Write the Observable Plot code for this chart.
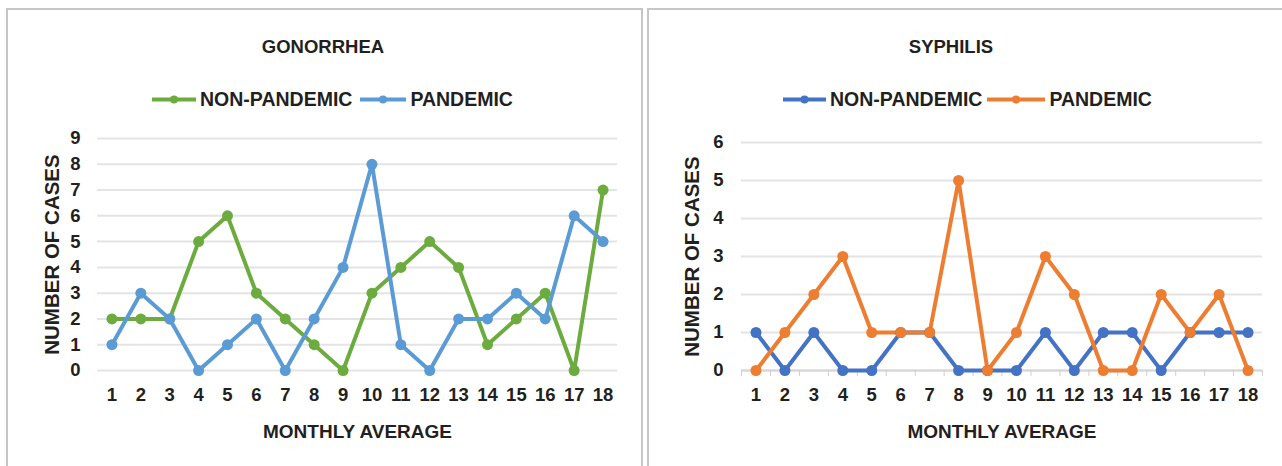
<!DOCTYPE html>
<html><head><meta charset="utf-8">
<script src="https://cdn.jsdelivr.net/npm/d3@7"></script>
<script src="https://cdn.jsdelivr.net/npm/@observablehq/plot@0.6"></script>
<style>
body{margin:0;background:#fff;font-family:"Liberation Sans",Arial,sans-serif;}
#page{position:relative;width:1282px;height:466px;overflow:hidden;background:#fff;}
.panel{position:absolute;border:2.5px solid #c6c6c6;box-sizing:border-box;}
.title{position:absolute;font-weight:bold;font-size:18.5px;color:#231f20;transform:translate(-50%,-50%);white-space:nowrap;}
.legend{position:absolute;display:flex;align-items:center;font-weight:bold;font-size:19.5px;color:#231f20;white-space:nowrap;transform:translateY(-50%);}
.legend .item{display:flex;align-items:center;}
.legend svg{display:block;}
.chart{position:absolute;top:120px;}
</style></head>
<body><div id="page"></div>
<script>
const months = [1,2,3,4,5,6,7,8,9,10,11,12,13,14,15,16,17,18];
const seriesNames = ["NON-PANDEMIC", "PANDEMIC"];

const gonNonPandemic = [2,2,2,5,6,3,2,1,0,3,4,5,4,1,2,3,0,7];
const gonPandemic    = [1,3,2,0,1,2,0,2,4,8,1,0,2,2,3,2,6,5];
const gonTicks = [0,1,2,3,4,5,6,7,8,9];

const syphNonPandemic = [1,0,1,0,0,1,1,0,0,0,1,0,1,1,0,1,1,1];
const syphPandemic    = [0,1,2,3,1,1,1,5,0,1,3,2,0,0,2,1,2,0];
const syphTicks = [0,1,2,3,4,5,6];

const page = document.getElementById("page");
const FONT = '"Liberation Sans", Arial, sans-serif';
const INK = "#231f20";

function rows(a, b) {
  return months.flatMap((m, i) => [
    {month: m, series: seriesNames[0], value: a[i]},
    {month: m, series: seriesNames[1], value: b[i]}
  ]);
}

function addPanel(cfg) {
  const p = document.createElement("div");
  p.className = "panel";
  Object.assign(p.style, cfg.panelStyle);
  page.appendChild(p);

  const t = document.createElement("div");
  t.className = "title";
  t.textContent = cfg.title;
  t.style.left = cfg.titleX + "px";
  t.style.top = "47px";
  page.appendChild(t);

  const lg = document.createElement("div");
  lg.className = "legend";
  lg.style.left = cfg.legendX + "px";
  lg.style.top = "99px";
  seriesNames.forEach((name, i) => {
    const it = document.createElement("div");
    it.className = "item";
    const w = cfg.swatchW[i];
    it.innerHTML = `<svg width="${w}" height="12"><line x1="0" x2="${w}" y1="6" y2="6" stroke="${cfg.colors[i]}" stroke-width="4"/><circle cx="${w/2}" cy="6" r="4" fill="${cfg.colors[i]}"/></svg><span style="margin-left:4px">${name}</span>`;
    if (i > 0) it.style.marginLeft = cfg.legendGap + "px";
    lg.appendChild(it);
  });
  page.appendChild(lg);

  const data = rows(cfg.a, cfg.b);
  const marks = [
    Plot.ruleY(cfg.ticks, {stroke: "#e4e4e4", strokeWidth: 2}),
  ];
  if (cfg.baseTicks) {
    marks.push(Plot.ruleY([0], {stroke: "#d6d6d6", strokeWidth: 2}));
    marks.push(Plot.axisX({tickSize: 6, tickFormat: () => "", dx: 14.5, stroke: "#d0d0d0", label: null}));
    marks.push(Plot.axisX({ticks: [months[0]], tickSize: 6, tickFormat: () => "", dx: -14.5, stroke: "#d0d0d0", label: null}));
  }
  marks.push(
    Plot.axisX({tickSize: 0, tickPadding: 17, fill: INK, fontSize: 18.5, fontWeight: "bold", label: null}),
    Plot.axisX({ticks: [], fill: INK, fontSize: 19, fontWeight: "bold",
      label: "MONTHLY AVERAGE", labelAnchor: "center", labelOffset: 67, labelArrow: "none"}),
    Plot.axisY({ticks: cfg.ticks, tickFormat: d3.format("d"), tickSize: 0, tickPadding: cfg.yPad, fill: INK, fontSize: 18.5, fontWeight: "bold", label: null}),
    Plot.axisY({ticks: [], fill: INK, fontSize: 20.5, fontWeight: "bold",
      label: "NUMBER OF CASES", labelAnchor: "center", labelOffset: cfg.yLabelOffset, labelArrow: "none"}),
    Plot.line(data, {x: "month", y: "value", z: "series", stroke: "series", strokeWidth: cfg.lineW}),
    Plot.dot(data, {x: "month", y: "value", fill: "series", r: cfg.dotR})
  );

  const chart = Plot.plot({
    width: cfg.width, height: 330,
    marginTop: cfg.marginTop, marginBottom: 80, marginLeft: cfg.marginLeft, marginRight: cfg.marginRight,
    style: {fontFamily: FONT, fontSize: "18px", fontWeight: "bold", color: INK, background: "transparent", overflow: "visible"},
    x: {type: "band", domain: months, padding: 0, round: false},
    y: {domain: [cfg.ticks[0], cfg.ticks[cfg.ticks.length - 1]]},
    color: {domain: seriesNames, range: cfg.colors},
    marks
  });
  chart.classList.add("chart");
  chart.style.left = cfg.left + "px";
  page.appendChild(chart);
}

addPanel({
  title: "GONORRHEA", titleX: 323, legendX: 152, legendGap: 8, swatchW: [44, 46],
  panelStyle: {left: "6px", top: "8px", width: "637px", height: "470px"},
  a: gonNonPandemic, b: gonPandemic, ticks: gonTicks,
  colors: ["#6cab3e", "#5b9bd5"],
  left: 0, width: 642, marginLeft: 97, marginRight: 25, marginTop: 18,
  yPad: 17, yLabelOffset: 53, lineW: 4, dotR: 5.5, baseTicks: false
});

addPanel({
  title: "SYPHILIS", titleX: 951, legendX: 783, legendGap: 5, swatchW: [43, 58],
  panelStyle: {left: "647px", top: "8px", width: "660px", height: "470px"},
  a: syphNonPandemic, b: syphPandemic, ticks: syphTicks,
  colors: ["#4472c4", "#ed7d31"],
  left: 650, width: 632, marginLeft: 91, marginRight: 20, marginTop: 22,
  yPad: 18, yLabelOffset: 57, lineW: 4, dotR: 5.5, baseTicks: true
});
</script></body></html>
